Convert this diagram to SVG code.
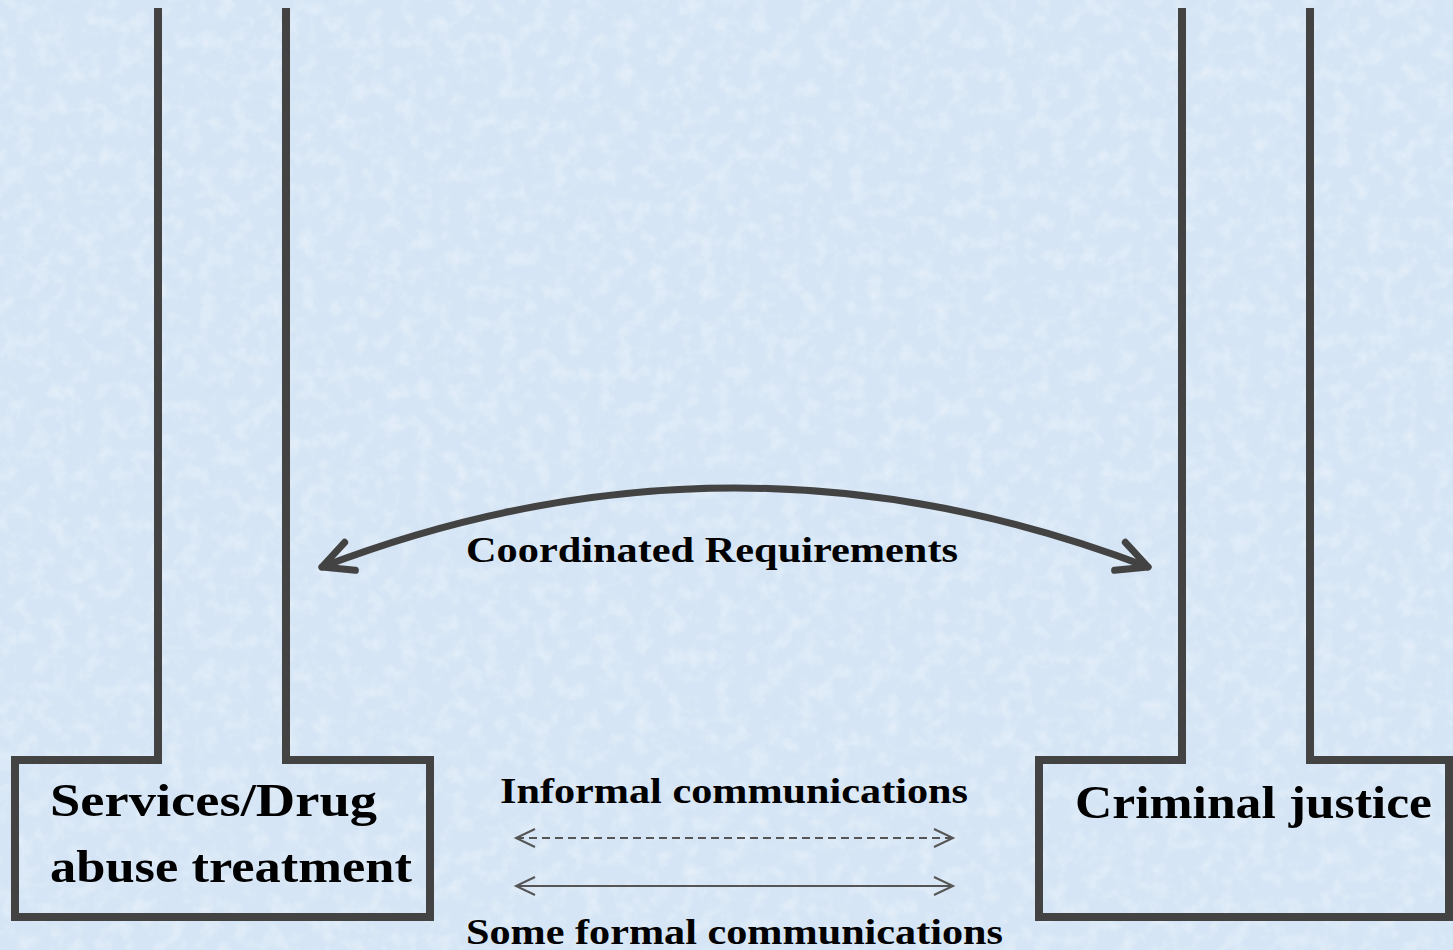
<svg xmlns="http://www.w3.org/2000/svg" width="1453" height="950" viewBox="0 0 1453 950">
  <style>
    .frame { fill: none; stroke: #434343; stroke-width: 8; stroke-linejoin: miter; }
    .label { font-family: "Liberation Serif", "DejaVu Serif", serif; font-weight: bold; fill: #000; }
    .big { font-size: 46px; }
    .mid { font-size: 35px; }
    .curve { fill: none; stroke: #434343; stroke-width: 7; stroke-linecap: round; }
    .thin { fill: none; stroke: #555; stroke-width: 2; }
    .dash { stroke-dasharray: 8 5; }
  </style>
  <defs>
    <filter id="paper" x="0" y="0" width="100%" height="100%">
      <feTurbulence type="fractalNoise" baseFrequency="0.06" numOctaves="4" seed="7" result="n"/>
      <feColorMatrix in="n" type="matrix" values="0 0 0 0 1  0 0 0 0 1  0 0 0 0 1  0 0 0 1.4 -0.6"/>
    </filter>
    <marker id="headBig" viewBox="-40 -20 48 40" markerUnits="userSpaceOnUse" markerWidth="48" markerHeight="40" refX="0" refY="0" orient="auto-start-reverse">
      <path d="M-30,-15 L0,0 L-30,15" fill="none" stroke="#434343" stroke-width="7" stroke-linecap="round" stroke-linejoin="round"/>
    </marker>
    <marker id="headThin" viewBox="-24 -12 28 24" markerUnits="userSpaceOnUse" markerWidth="28" markerHeight="24" refX="0" refY="0" orient="auto-start-reverse">
      <path d="M-19,-9 L0,0 L-19,9" fill="none" stroke="#555" stroke-width="2"/>
    </marker>
  </defs>

  <!-- paper background -->
  <rect width="1453" height="950" fill="#d5e5f5"/>
  <rect width="1453" height="950" filter="url(#paper)" opacity="0.5"/>

  <!-- left column: services / drug abuse treatment -->
  <g id="services">
    <path class="frame" d="M158,8 L158,760 L15,760 L15,917 L430,917 L430,760 L286,760 L286,8"/>
    <text class="label big" x="50" y="816" textLength="327" lengthAdjust="spacingAndGlyphs">Services/Drug</text>
    <text class="label big" x="50" y="882" textLength="362" lengthAdjust="spacingAndGlyphs">abuse treatment</text>
  </g>

  <!-- right column: criminal justice -->
  <g id="criminal-justice">
    <path class="frame" d="M1182,8 L1182,760 L1039,760 L1039,917 L1449,917 L1449,760 L1310,760 L1310,8"/>
    <text class="label big" x="1075" y="818" textLength="357" lengthAdjust="spacingAndGlyphs">Criminal justice</text>
  </g>

  <!-- links between the two systems -->
  <g id="connectors">
    <path class="curve" d="M322,567 Q735,409 1148,567" marker-start="url(#headBig)" marker-end="url(#headBig)"/>
    <line class="thin dash" x1="516" y1="838" x2="953" y2="838" marker-start="url(#headThin)" marker-end="url(#headThin)"/>
    <line class="thin" x1="516" y1="886" x2="953" y2="886" marker-start="url(#headThin)" marker-end="url(#headThin)"/>
  </g>

  <g id="link-labels">
    <text class="label mid" x="466" y="562" textLength="492" lengthAdjust="spacingAndGlyphs">Coordinated Requirements</text>
    <text class="label mid" x="500" y="803" textLength="468" lengthAdjust="spacingAndGlyphs">Informal communications</text>
    <text class="label mid" x="466" y="944" textLength="537" lengthAdjust="spacingAndGlyphs">Some formal communications</text>
  </g>
</svg>
